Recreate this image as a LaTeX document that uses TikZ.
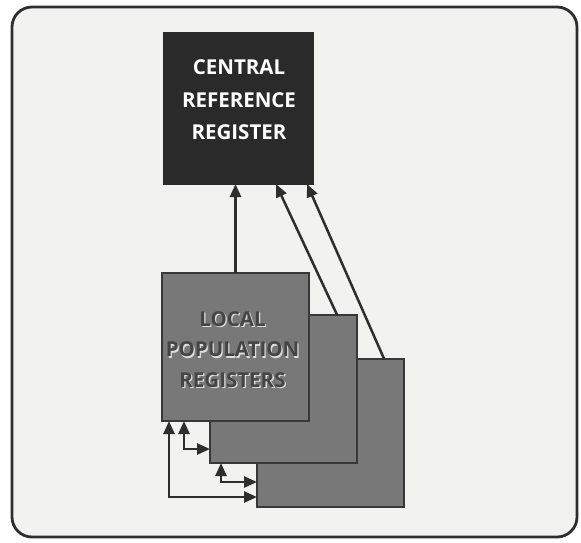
\documentclass[tikz,border=0pt]{standalone}
\usepackage{fontspec}
\setmainfont{Open Sans}
\usetikzlibrary{arrows.meta,calc}
\definecolor{ink}{HTML}{2E2E2E}
\definecolor{paper}{HTML}{F2F2F0}
\definecolor{dark}{HTML}{2A2A2A}
\definecolor{midgray}{HTML}{787878}
\definecolor{boxedge}{HTML}{383838}
\definecolor{lowtext}{HTML}{454545}
\begin{document}
\begin{tikzpicture}[x=1pt,y=-1pt,
  frame/.style={draw=ink,line width=2.8pt,rounded corners=20pt,fill=paper},
  central/.style={fill=dark,draw=dark,line width=1pt,minimum width=150pt,minimum height=152pt,inner sep=0pt,outer sep=0pt,anchor=north west},
  centraltext/.style={text=white,font=\bfseries\fontsize{20.5}{32.5}\selectfont,align=center},
  localbox/.style={fill=midgray,draw=boxedge,line width=2.8pt,minimum width=147pt,minimum height=148pt,inner sep=0pt,outer sep=0pt,anchor=north west},
  tip/.style={Triangle[length=13pt,width=11pt]},
  conn/.style={draw=ink,line width=2.5pt,-{Triangle[length=13pt,width=11pt]}},
  conn2/.style={draw=ink,line width=2.5pt,{Triangle[length=13pt,width=11pt]}-{Triangle[length=13pt,width=11pt]}},
  loctext/.style={font=\bfseries\fontsize{20.5}{30.5}\selectfont,align=center}
]
\useasboundingbox (0,0) rectangle (581,542);
\path[frame] (12,7) rectangle (577,537);
% local registers (back to front)
\node[localbox] (l3) at (257,359) {};
\node[localbox] (l2) at (210,315) {};
\node[localbox] (l1) at (162,273) {};
\node[loctext,text=white!75!midgray] (lt2) at (233.8,350.8) {LOCAL\\POPULATION\\REGISTERS};
\node[loctext,text=lowtext] (lt) at (232.5,349.5) {LOCAL\\POPULATION\\REGISTERS};
% central register
\node[central] (crr) at (163,32) {};
\node[centraltext] (crrtext) at (239,100) {CENTRAL\\REFERENCE\\REGISTER};
% upward connectors
\draw[conn] (l1.north) -- (l1.north |- crr.south);
\draw[conn] ($(l2.north west)!0.865!(l2.north east)$) -- ($(crr.south west)!0.753!(crr.south east)$);
\draw[conn] ($(l3.north west)!0.865!(l3.north east)$) -- ($(crr.south west)!0.96!(crr.south east)$);
% exchange connectors
\draw[conn2] ($(l1.south west)+(7,0)$) |- ($(l3.south west)+(0,-10)$);
\draw[conn2] ($(l1.south west)+(22,0)$) |- ($(l2.north west)+(0,134)$);
\draw[conn2] ($(l2.south west)+(11,0)$) |- ($(l3.north west)+(0,123)$);
\end{tikzpicture}
\end{document}
